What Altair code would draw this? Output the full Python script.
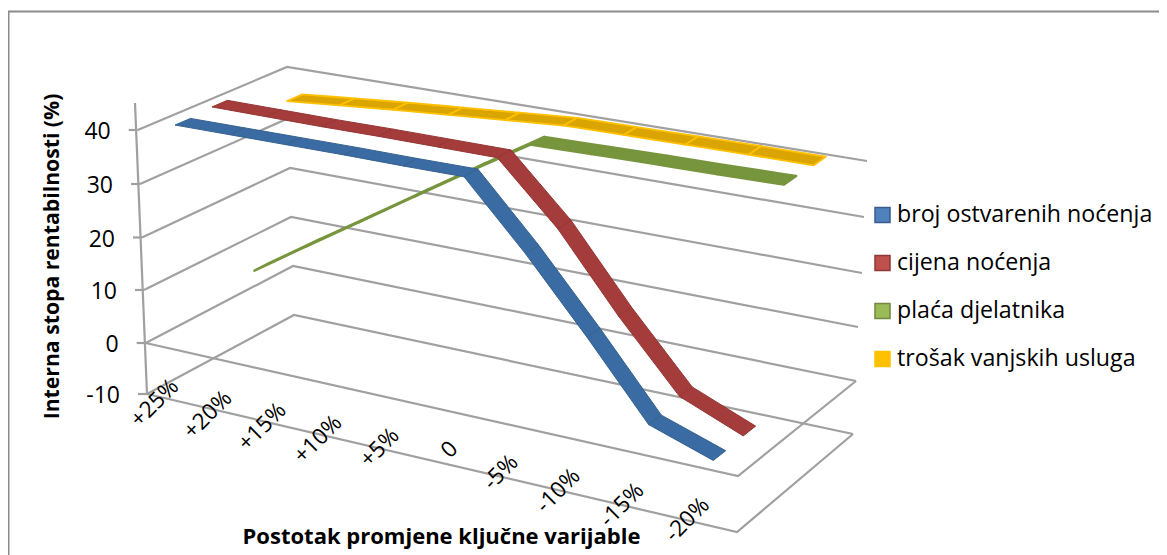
import altair as alt
import numpy as np
import pandas as pd

CATEGORIES = ["+25%", "+20%", "+15%", "+10%", "+5%", "0", "-5%", "-10%", "-15%", "-20%"]
SERIES = ["broj ostvarenih noćenja", "cijena noćenja", "plaća djelatnika", "trošak vanjskih usluga"]
BROJ = [41.0, 41.1, 41.2, 41.3, 41.3, 41.4, 29.8, 17.2, 4.0, 0.2]
CIJENA = [41.4, 41.4, 41.4, 41.5, 41.5, 41.5, 30.7, 17.2, 5.0, 0.4]
PLACA = [6.6, 13.4, 20.2, 27.0, 33.8, 40.5, 40.7, 40.9, 41.0, 41.2]
TROSAK = [36.4, 37.3, 38.2, 39.0, 39.8, 40.6, 40.7, 40.8, 40.9, 40.9]
VALUES = [BROJ, CIJENA, PLACA, TROSAK]
TICKS = [-10, 0, 10, 20, 30, 40]

# colours
FILL = ["#3a6ba3", "#a33c3a", "#76953d", "#dba500"]
EDGE = ["#35628f", "#963634", "#76953d", "#ffc000"]
EDGE_W = [1.0, 1.0, 2.4, 1.8]
SWATCH = ["#4f81bd", "#c0504d", "#9bbb59", "#ffc000"]
SWATCH_EDGE = ["#385d8a", "#8c3836", "#71893f", "#ffc000"]
GRID = "#a0a0a0"
FRAME = "#8c8c8c"
TEXT = "#000000"
FONT = "Open Sans"

# 3D camera: screen position of the four vertical box edges, per axis level
LEVELS = [-10, 0, 10, 20, 30, 40, 45]
FLx = [147, 145.7, 144, 142, 140, 137.7, 135]
FLy = [394, 343, 290, 237.5, 184, 130, 103]
BLx = [294, 293, 291, 290, 289, 287, 286]
BLy = [315, 266, 217, 168, 118, 67, 41]
BRx = [853, 856, 858, 862, 864, 867, 868.5]
BRy = [434, 381, 327, 273, 217, 161, 133]
FRx = [737, 738, 741, 744, 747, 750, 751.5]
FRy = [532, 476, 419, 362, 304, 246, 217]
K = 0.14
HALF = 0.052


def project(u, v, w):
    t = u / (1 + K * (1 - u))
    c = lambda T: np.interp(w, LEVELS, T)
    fx = c(FLx) + (c(FRx) - c(FLx)) * t
    fy = c(FLy) + (c(FRy) - c(FLy)) * t
    bx = c(BLx) + (c(BRx) - c(BLx)) * t
    by = c(BLy) + (c(BRy) - c(BLy)) * t
    return float(fx + (bx - fx) * v), float(fy + (by - fy) * v)


def quad_rows(quad, seg):
    """Upper and lower boundary of a convex quad, for an x/y/y2 area."""
    rows = []
    n = len(quad)
    for x in sorted({p[0] for p in quad}):
        ys = []
        for a in range(n):
            (x0, y0), (x1, y1) = quad[a], quad[(a + 1) % n]
            if min(x0, x1) <= x <= max(x0, x1):
                if x0 == x1:
                    ys += [y0, y1]
                else:
                    ys.append(y0 + (y1 - y0) * (x - x0) / (x1 - x0))
        rows.append({"x": x, "y": min(ys), "y2": max(ys), "seg": seg})
    return rows


XS = alt.Scale(domain=[8, 1159], nice=False, zero=False)
X = alt.X("x:Q", scale=XS, axis=None)
Y = alt.Y("y:Q", scale=alt.Scale(domain=[555, 8], nice=False, zero=False), axis=None)

layers = []

# frame
layers.append(alt.Chart(pd.DataFrame({"a": [0]})).mark_rule(color=FRAME, strokeWidth=2).encode(
    x=alt.value(0.5), y=alt.value(3.5), y2=alt.value(547)))
layers.append(alt.Chart(pd.DataFrame({"a": [0]})).mark_rule(color=FRAME, strokeWidth=2).encode(
    y=alt.value(3.5), x=alt.value(0), x2=alt.value(1151)))

# grid lines on walls and floor
grid = []
for w in TICKS:
    path = [(0, 0), (0, 1), (1, 1)]
    for o, (u, v) in enumerate(path):
        x, y = project(u, v, w)
        grid.append({"x": x, "y": y, "o": o, "g": f"wall{w}"})
for w in TICKS[:2]:
    for o, (u, v) in enumerate([(0, 0), (1, 0), (1, 1)]):
        x, y = project(u, v, w)
        grid.append({"x": x, "y": y, "o": o, "g": f"floor{w}"})
# value axis line
for o, w in enumerate([-10, 45]):
    x, y = project(0, 0, w)
    grid.append({"x": x, "y": y, "o": o, "g": "axis"})
# value axis ticks
for w in TICKS:
    x, y = project(0, 0, w)
    grid.append({"x": x, "y": y, "o": 0, "g": f"tick{w}"})
    grid.append({"x": x - 9, "y": y, "o": 1, "g": f"tick{w}"})
layers.append(alt.Chart(pd.DataFrame(grid)).mark_line(color=GRID, strokeWidth=2.2).encode(
    x=X, y=Y, detail="g:N", order="o:Q"))

# ribbons, back to front
for s in [3, 2, 1, 0]:
    v = (s + 0.5) / 4
    rows = []
    vals = VALUES[s]
    for i in range(len(vals) - 1):
        u0, u1 = (i + 0.5) / 10, (i + 1.5) / 10
        quad = [project(u0, v - HALF, vals[i]), project(u0, v + HALF, vals[i]),
                project(u1, v + HALF, vals[i + 1]), project(u1, v - HALF, vals[i + 1])]
        rows += quad_rows(quad, i)
    layers.append(alt.Chart(pd.DataFrame(rows)).mark_area(
        color=FILL[s], stroke=EDGE[s], strokeWidth=EDGE_W[s], strokeJoin="round", opacity=1
    ).encode(x=X, y=Y, y2="y2:Q", detail="seg:N"))

# value axis labels
lab = []
for w in TICKS:
    x, y = project(0, 0, w)
    lab.append({"x": x - 27, "y": y + 2, "t": str(w)})
layers.append(alt.Chart(pd.DataFrame(lab)).mark_text(
    align="right", baseline="middle", font=FONT, fontSize=23, color=TEXT
).encode(x=X, y=Y, text="t:N"))

# category labels
lab = []
for i, c in enumerate(CATEGORIES):
    u = (i + 0.5) / 10
    x, y = project(u, 0, -10)
    lab.append({"x": x + 2, "y": y - 17 - 6 * u, "t": c})
layers.append(alt.Chart(pd.DataFrame(lab)).mark_text(
    align="right", baseline="middle", angle=315, font=FONT, fontSize=22.5, color=TEXT
).encode(x=X, y=Y, text="t:N"))

# axis titles
layers.append(alt.Chart(pd.DataFrame({"x": [53], "y": [256.5], "t": ["Interna stopa rentabilnosti (%)"]})).mark_text(
    align="center", baseline="middle", angle=270, font=FONT, fontSize=21.2, fontWeight="bold", color=TEXT
).encode(x=X, y=Y, text="t:N"))
layers.append(alt.Chart(pd.DataFrame({"x": [441.5], "y": [537], "t": ["Postotak promjene ključne varijable"]})).mark_text(
    align="center", baseline="middle", font=FONT, fontSize=22, fontWeight="bold", color=TEXT
).encode(x=X, y=Y, text="t:N"))

# legend
LEG_Y = [215, 263, 311, 359]
for s, name in enumerate(SERIES):
    d = pd.DataFrame({"x": [882.5], "y": [LEG_Y[s]], "tx": [897], "t": [name]})
    layers.append(alt.Chart(d).mark_square(size=225, color=SWATCH[s], stroke=SWATCH_EDGE[s],
                                           strokeWidth=1.5, opacity=1).encode(x=X, y=Y))
    layers.append(alt.Chart(d).mark_text(
        align="left", baseline="middle", font=FONT, fontSize=23.2, color=TEXT
    ).encode(x=alt.X("tx:Q", scale=XS, axis=None), y=Y, text="t:N"))

chart = alt.layer(*layers).properties(
    width=1151, height=547, padding=0, autosize=alt.AutoSizeParams(type="none"),
    background="white"
).configure_view(stroke=None)

chart.save("out.html", embed_options={"renderer": "svg", "actions": False})
